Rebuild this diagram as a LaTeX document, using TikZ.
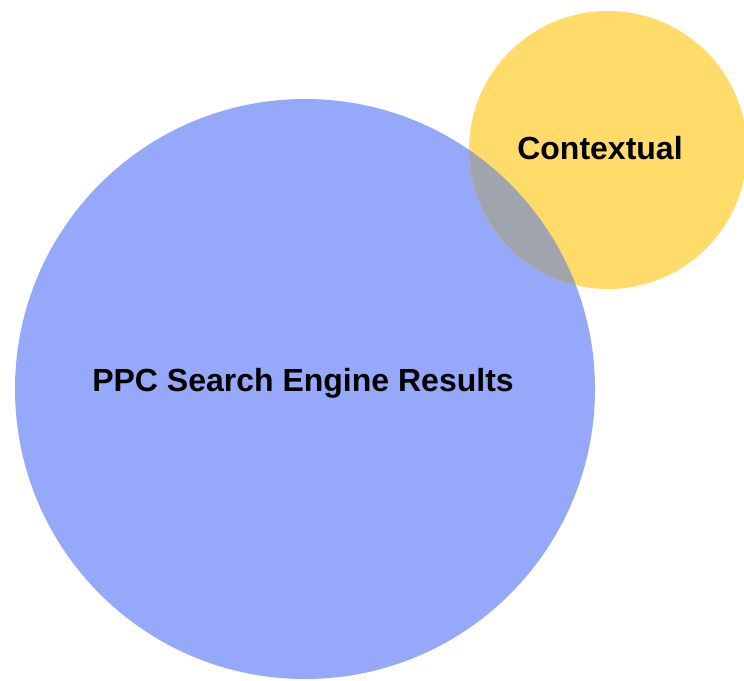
\documentclass[tikz,border=0pt]{standalone}
\usepackage{fontspec}
\setmainfont{Liberation Sans}
\definecolor{ppcblue}{RGB}{150,168,250}
\definecolor{ctxyellow}{RGB}{255,219,105}
\definecolor{overlapgray}{RGB}{160,164,172}
\begin{document}
\begin{tikzpicture}[x=1pt,y=-1pt,
  lbl/.style={font=\fontsize{32}{38}\selectfont\bfseries, text=black}]
  \useasboundingbox (0,0) rectangle (744,680);
  % big circle
  \fill[ppcblue] (305,389) circle[radius=290];
  % small circle
  \fill[ctxyellow] (608,150) circle[radius=139];
  % intersection
  \begin{scope}
    \clip (305,389) circle[radius=290];
    \fill[overlapgray] (608,150) circle[radius=139];
  \end{scope}
  \node[lbl] (ppc) at (303,383) {PPC Search Engine Results};
  \node[lbl] (ctx) at (600,148) {Contextual};
\end{tikzpicture}
\end{document}
